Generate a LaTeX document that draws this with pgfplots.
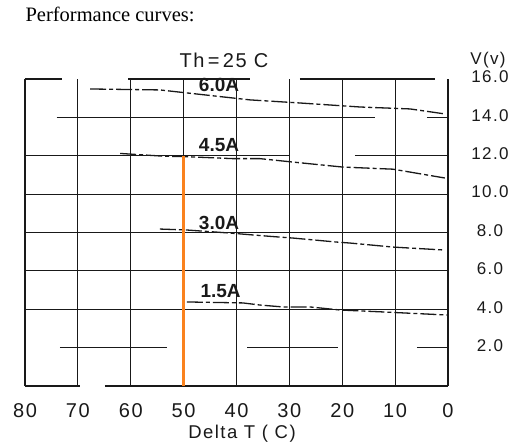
\documentclass[border=0pt]{standalone}
\usepackage{pgfplots}
\pgfplotsset{compat=1.18}
\usepackage{fontspec}
\setmainfont{Liberation Sans}
\newfontfamily\serifttl{Liberation Serif}
\newfontfamily\spaced[LetterSpace=8]{Liberation Sans}
\definecolor{orng}{RGB}{250,130,30}
\definecolor{ink}{RGB}{25,25,25}
\begin{document}
\begin{tikzpicture}[x=1pt,y=1pt]
\useasboundingbox (0,0) rectangle (516,447);
\begin{axis}[
  at={(25pt,61pt)}, anchor=south west,
  width=423pt, height=307pt, scale only axis,
  xmin=0, xmax=80, ymin=0, ymax=16, x dir=reverse,
  axis line style={draw=none},
  xtick={0,10,...,80}, ytick={2,4,...,16},
  major tick length=0pt,
  yticklabel pos=right,
  /pgf/number format/assume math mode=true,
  xticklabel style={font=\fontsize{20}{20}\selectfont\spaced, anchor=base, yshift=-31pt, text=ink},
  yticklabel style={font=\fontsize{17}{17}\selectfont\spaced, anchor=center, inner sep=0pt, xshift=42pt, yshift=2pt, text=ink,
     /pgf/number format/.cd, fixed, fixed zerofill, precision=1},
  clip=false,
  unbounded coords=jump,
  grd/.style={ink, line width=1.2pt, forget plot},
  crv/.style={ink, line width=1.3pt, dash pattern=on 16pt off 3pt on 4pt off 3pt, forget plot},
]
% horizontal grid lines (partially drawn as in the scan)
\addplot[grd] coordinates {(80,16) (73,16) (nan,nan) (60.5,16) (37.4,16) (nan,nan) (28,16) (2.5,16)};
\addplot[grd] coordinates {(74,14) (13.8,14) (nan,nan) (4,14) (0,14)};
\addplot[grd] coordinates {(80,12) (29.9,12) (nan,nan) (17.6,12) (0,12)};
\addplot[grd] coordinates {(80,10) (0,10)};
\addplot[grd] coordinates {(80,8) (0,8)};
\addplot[grd] coordinates {(80,6) (0,6)};
\addplot[grd] coordinates {(80,4) (0,4)};
\addplot[grd] coordinates {(73.4,2) (53.1,2) (nan,nan) (38,2) (20.8,2) (nan,nan) (5.9,2) (0,2)};
\addplot[grd] coordinates {(80,0) (69.6,0) (nan,nan) (64.9,0) (0,0)};
% vertical grid lines
\addplot[grd] coordinates {(80,0) (80,16)};
\addplot[grd] coordinates {(70,0) (70,16)};
\addplot[grd] coordinates {(60,0) (60,16)};
\addplot[grd] coordinates {(50,0) (50,16)};
\addplot[grd] coordinates {(40,0) (40,16)};
\addplot[grd] coordinates {(30,0) (30,16)};
\addplot[grd] coordinates {(20,0) (20,16)};
\addplot[grd] coordinates {(10,0) (10,16)};
\addplot[grd] coordinates {(0,0) (0,16)};
% performance curves
\addplot[crv] coordinates {(67.7,15.48) (54.5,15.43) (37.4,14.91) (28.0,14.75) (16.6,14.54) (7.2,14.44) (0.6,14.18)};
\addplot[crv] coordinates {(62,12.12) (54,11.98) (49.4,11.95) (40.7,11.85) (35.6,11.85) (29.3,11.67) (19.9,11.41) (10.4,11.3) (0.6,10.84)};
\addplot[crv] coordinates {(54.5,8.18) (49.4,8.13) (41.2,7.97) (33.7,7.8) (29.3,7.71) (21,7.5) (18.5,7.45) (10.4,7.24) (0.9,7.09)};
\addplot[crv] coordinates {(49.4,4.38) (38.8,4.33) (35.6,4.22) (31.2,4.12) (26.1,4.12) (20.4,3.96) (12.3,3.86) (7.8,3.8) (0.2,3.7)};
% operating point line
\addplot[orng, line width=3.6pt, forget plot] coordinates {(50,0) (50,12)};
\node[font=\fontsize{19}{19}\selectfont\bfseries, text=ink] at (axis cs:43.3,15.69) {6.0A};
\node[font=\fontsize{19}{19}\selectfont\bfseries, text=ink] at (axis cs:43.3,12.56) {4.5A};
\node[font=\fontsize{19}{19}\selectfont\bfseries, text=ink] at (axis cs:43.3,8.5) {3.0A};
\node[font=\fontsize{19}{19}\selectfont\bfseries, text=ink] at (axis cs:43.0,4.95) {1.5A};
\end{axis}
\node[anchor=base west, font=\fontsize{20.5}{20.5}\selectfont\serifttl] at (22,425) {Performance curves:};
\node[font=\fontsize{20}{20}\selectfont\spaced, text=ink] at (224,387) {Th\,=\,25 C};
\node[font=\fontsize{17}{17}\selectfont\spaced, text=ink] at (488,387) {V(v)};
\node[font=\fontsize{18.5}{18.5}\selectfont\spaced, text=ink] at (242,13) {Delta T ( C)};
\end{tikzpicture}
\end{document}
